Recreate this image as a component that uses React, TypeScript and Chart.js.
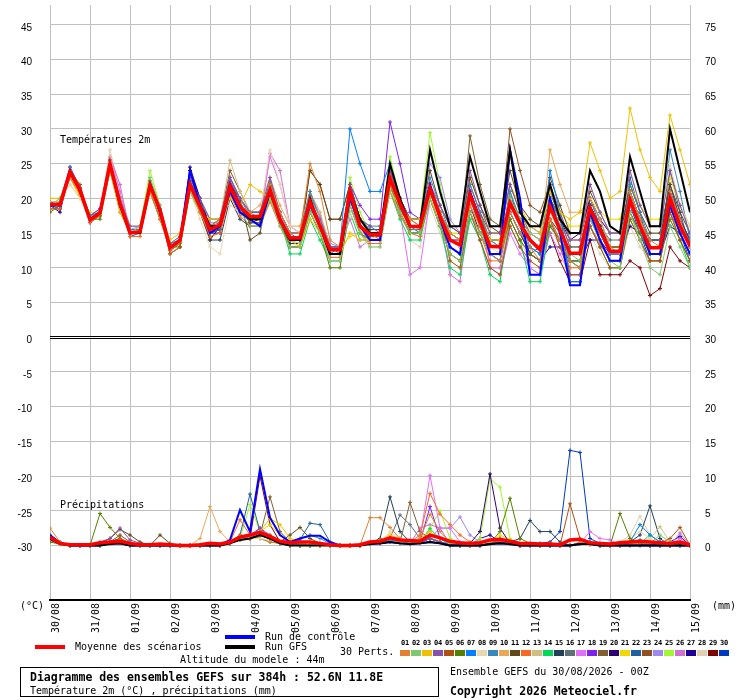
import React, { useEffect, useRef } from "react";
import { Chart, registerables } from "chart.js";

Chart.register(...registerables);

const MONO = "'DejaVu Sans Mono', 'Liberation Mono', monospace";
const SANS = "'Liberation Sans', Arial, sans-serif";

const DATES = ["30/08", "31/08", "01/09", "02/09", "03/09", "04/09", "05/09", "06/09", "07/09", "08/09", "09/09", "10/09", "11/09", "12/09", "13/09", "14/09", "15/09"];
const LEFT_TICKS = [-30, -25, -20, -15, -10, -5, 0, 5, 10, 15, 20, 25, 30, 35, 40, 45];
const RIGHT_TICKS = [0, 5, 10, 15, 20, 25, 30, 35, 40, 45, 50, 55, 60, 65, 70, 75];
const STEP_HOURS = 6;

const MEMBER_COLORS = [
  "#e08030", "#80c870", "#f0c000", "#8850a8", "#b05010", "#588000", "#0080ff", "#e8d8b0", "#3888b8", "#e8a858",
  "#604818", "#f86820", "#d0c080", "#00d858", "#204058", "#607078", "#e070f8", "#8020f0", "#806030", "#300070",
  "#f0d800", "#2060a0", "#905020", "#a088f0", "#a0f830", "#d070d0", "#200098", "#e0d0b0", "#800000", "#0038c0",
];
const MEMBER_NAMES = ["01","02","03","04","05","06","07","08","09","10","11","12","13","14","15","16","17","18","19","20","21","22","23","24","25","26","27","28","29","30"];

// Temperature 2m (°C), 6-hourly
const T_MEAN = [19.1,19.1,23.8,21.2, 16.9,17.9,25.0,19.3, 15.0,15.2,21.9,18.3, 12.9,14.0,22.0,18.8, 15.5,16.2,21.7,18.8, 17.4,17.4,21.2,16.9, 14.3,14.3,19.5,16.0, 12.6,12.6,21.0,16.0, 14.8,14.8,22.9,19.3, 16.0,15.9,21.4,17.4, 14.0,13.3,20.5,16.7, 13.1,13.0,19.3,16.4, 14.0,12.6,18.8,15.5, 12.1,12.1,18.6,15.5, 12.4,12.4,19.8,16.0, 12.9,12.9,20.0,16.0, 13.1];
const T_CTL = [19,19,24,21, 17,18,25,19, 15,15,22,18, 13,14,24,19, 15,16,21,18, 17,16,21,17, 14,14,19,16, 12,12,20,16, 14,14,23,19, 16,16,22,17, 13,12,21,17, 12,12,27,20, 9,9,20,15, 7.5,7.5,18,14, 11,11,20,16, 12,12,19,15, 12];
const T_GFS = [19,19,24,21, 17,18,25,19, 15,15,22,18, 13,14,22,19, 16,16,22,19, 17,17,21,17, 14,14,20,16, 12,12,21,17, 15,15,25,20, 16,16,27,21, 16,16,26,21, 16,16,27,18, 16,16,22,17, 15,15,24,21, 16,15,26,21, 16,16,30,24, 18];

const T01 = [19,19,23,21, 17,18,24,19, 15,15,21,17, 13,14,22,18, 16,17,21,19, 18,17,22,18, 15,15,25,21, 14,13,20,17, 15,14,22,19, 17,16,22,18, 15,14,19,16, 12,11,18,15, 13,11,17,14, 11,10,18,15, 13,12,21,17, 14,13,21,17, 13];
const T02 = [19,20,24,21, 17,18,25,20, 15,16,23,19, 13,14,21,18, 15,16,21,18, 16,16,20,16, 13,13,18,15, 11,11,19,15, 13,13,21,18, 15,15,20,16, 12,11,18,15, 12,12,20,17, 15,14,20,16, 12,11,17,14, 11,10,18,14, 10,9,16,13, 10];
const T03 = [20,20,23,21, 17,18,24,18, 15,15,21,18, 14,15,21,18, 17,17,20,19, 22,21,20,17, 14,13,17,15, 12,12,15,14, 14,14,21,19, 17,17,20,17, 15,14,20,17, 14,14,20,17, 16,15,21,18, 17,18,28,24, 20,21,33,27, 23,21,32,27, 22];
const T04 = [19,19,23,21, 17,18,25,20, 16,16,22,18, 13,14,23,20, 17,17,23,20, 18,18,23,18, 15,14,19,17, 13,13,22,17, 16,15,24,20, 17,17,22,19, 16,15,24,19, 15,15,22,18, 16,15,22,18, 14,14,22,18, 15,15,24,19, 16,16,24,19, 15];
const T05 = [19,19,24,22, 17,18,25,19, 15,15,22,18, 12,13,22,19, 15,16,22,19, 17,17,21,17, 14,14,20,16, 13,12,21,16, 15,15,24,20, 17,16,22,18, 11,10,18,14, 10,9,16,13, 11,10,17,13, 9,9,16,13, 10,10,17,14, 11,11,18,14, 11];
const T06 = [18,19,24,21, 17,17,24,18, 15,15,21,17, 13,13,21,18, 15,16,22,18, 17,17,20,17, 13,13,18,15, 10,10,19,15, 14,14,22,18, 15,15,20,16, 12,11,18,15, 12,12,17,14, 12,11,16,14, 11,11,17,15, 13,13,18,15, 12,12,17,14, 11];
const T07 = [19,19,24,21, 17,18,25,20, 15,15,22,18, 13,14,22,19, 15,16,21,19, 18,18,21,17, 14,14,19,16, 12,13,30,25, 21,21,25,20, 16,15,21,17, 13,12,20,16, 12,11,18,15, 13,12,24,18, 8,8,17,14, 11,11,18,15, 12,12,19,15, 12];
const T08 = [20,20,22,20, 17,18,26,20, 16,16,21,18, 12,13,21,17, 13,12,19,18, 17,18,27,22, 16,15,20,17, 11,11,18,15, 13,13,22,18, 16,16,22,18, 14,13,20,17, 13,12,19,16, 15,14,22,18, 14,14,22,18, 15,15,24,19, 16,16,25,19, 16];
const T09 = [19,19,24.5,21.5, 17.5,18,25.5,20, 15.5,15.5,22.5,18.5, 13.5,14.5,23,19.5, 17,17,23,20, 18,18,22,18, 15,15,21,17, 13,13,22,17, 16,16,24,20, 17,17,23,19, 15,14,22,18, 14,13,21,17, 13,12,20,16, 11,11,18,15, 12,12,22,18, 14,14,27,21, 14];
const T10 = [19,19,23,21, 17,18,24,19, 15,15,22,18, 12,13,22,18, 15,16,22,19, 18,19,23,19, 16,16,21,18, 13,13,21,17, 15,15,23,19, 16,16,21,17, 14,13,19,16, 13,13,19,16, 14,13,27,22, 18,18,20,17, 13,13,21,17, 13,13,19,16, 13];
const T11 = [19,19,24,21, 17,18,25,19, 15,15,22,18, 13,14,22,19, 16,17,22,20, 14,15,22,17, 14,14,24,22, 17,17,22,17, 15,15,24,20, 17,17,24,19, 16,15,23,19, 16,15,24,19, 17,16,23,19, 15,15,21,18, 15,15,22,18, 15,15,22,18, 15];
const T12 = [18.5,18.5,23,20.5, 16.5,17.5,24.5,19, 14.5,14.5,21,17, 12.5,13.5,21,18, 14.5,15,20.5,17.5, 16,16,19.5,16, 13,13,18,15, 11.5,11.5,19,15, 13.5,13.5,21,17.5, 15,14.5,20,16, 12,11,18,15, 11,11,17,14, 12,11,17,14, 10,10,16,13.5, 11,11,18,14, 11,11,18,15, 12];
const T13 = [19.5,19.5,24,21, 17,18,25,20, 15,15,21.5,18, 13,14,21,18, 16,17,25.5,21, 18,17,22,17, 14,13.5,18.5,15.5, 12,12,20,15.5, 14,14,22,18, 16,15,20,16.5, 13,12,19,16, 12,12,18,15, 13,12,18,15, 11,11,17,14, 11,11,18,15, 12,12,19,15, 12];
const T14 = [19,19,24,21, 17,18,25,19, 15,15,22,18, 13,14,22,19, 15,16,21,19, 17,17,21,17, 12,12,17,14, 11,11,18,14, 14,14,21,17, 14,14,20,16, 10,9,17,14, 9,8,17,14, 8,8,16,14, 11,10,16,13, 10,10,17,14, 11,11,18,14, 10];
const T15 = [18.5,18.5,23.5,21, 17,18,24.5,19, 15,15,22,18, 13,14,22.5,19, 14,14,20,17, 16,16,20,16.5, 13.5,13.5,19,15.5, 13,13,22,17, 15.5,15.5,22,18, 15,15,20,16, 13,12,19,16, 12,12,18,15, 12,13,17,15, 12,12,19,16, 13,13,21,17, 14,14,22,17, 14];
const T16 = [19,19.5,24,21.5, 17.5,18,25,19.5, 15.5,15.5,22.5,18.5, 13.5,14,21.5,18.5, 16,16.5,23,20, 17.5,17.5,22.5,18, 15,15,20.5,17, 13,13,21.5,17, 15,15,24,20, 17,17,22,18, 15,14,21,17.5, 14,14,20,17, 15,14,20,17, 13,13,19,16, 14,14,21,17, 14,14,21,17, 14];
const T17 = [19,19,24,21, 17,18,26,21, 15,15,22,18, 13,14,22,19, 16,16,22,19, 17,17,26,22, 16,15,20,17, 13,13,21,17, 15,14,22,18, 9,10,20,17, 14,13,22,18, 10,9,15,12, 10,9,15,12, 9,9,16,13, 12,12,19,16, 13,13,22,17, 14];
const T18 = [19,19.5,24.5,21.5, 17.5,18.5,25,19.5, 15.5,15.5,22,18, 13,14,22.5,19, 16,16,22.5,19.5, 17,17.5,21.5,17.5, 14.5,14.5,19,17, 13,13,22,19, 17,17,31,25, 18,17,22,18, 14,13,21,17, 13,13,20,16, 14,13,20,16, 12,12,19,16, 13,13,21,17, 13,13,21,17, 14];
const T19 = [19,19,23.5,21, 17,17.5,24.5,19, 15,15,21.5,18, 13,13.5,21.5,18.5, 15.5,16,21.5,18.5, 16.5,16.5,20.5,16.5, 13.5,13.5,19,16, 12,12,20,16, 14.5,14.5,22,18.5, 15.5,15.5,21,17.5, 15,14,29,22, 17,16,22,18, 15,14,20,17, 13,13,19,16, 13,13,21,17, 13,13,20,16, 13];
const T20 = [19.5,19,24,21, 17,18,25.5,19.5, 15,15,22,18, 13,14,24,20, 16,16,22,19, 16.5,17,21,17, 14,14,19,16, 12,12,21,16, 15,15,23,19, 16,16,21,17, 14,14,20,17, 14,14,20,17, 15,14,20,17, 14,15,20,17, 15,15,21,17, 14,14,21,17, 14];
const T21 = [20,20,23,20, 18,18,24,19, 15,16,22,18, 13,14,21,18, 16,17,22,19, 18,18,21,17, 14,13,18,16, 13,13,14.5,15, 14,15,21,18, 16,16,21,17, 15,15,23,19, 15,15,22,19, 16,16,21,18, 16,16,20,18, 17,17,22,19, 17,17,23,19, 16];
const T22 = [19,19,23.5,21, 16.5,17.5,25,19, 14.5,15,22,18, 12.5,13.5,22,18.5, 15,15.5,21.5,18.5, 16.5,16.5,20.5,16.5, 13,13,18,15, 11,11,20,15, 14,14,22,18, 15,15,21,17, 13,12,20,16, 12,11,18,15, 13,12,21,17, 11,10,20,16, 12,12,23,18, 12,12,24,18, 13];
const T23 = [19,19,24,21, 17,18,25,19, 15,15,22,18, 13,14,22,19, 16,17,24,21, 18,18,22,18, 15,15,24,22, 17,17,22,17, 15,15,24,20, 17,17,22,18, 15,14,22,18, 15,15,30,24, 19,18,22,18, 14,14,20,17, 13,13,21,17, 14,14,21,17, 14];
const T24 = [19.5,19.5,24.5,21.5, 17.5,18.5,25.5,20, 15.5,16,22.5,19, 13.5,14.5,22.5,19.5, 16.5,16.5,22.5,20, 18,18,22,18, 15,15,21,17.5, 13.5,13,21.5,17, 15,15,22,19, 17,17,25,23, 17,15,21,17, 14,13,20,17, 14,13,20,16, 12,12,19,16, 13,13,20,16, 13,13,21,17, 14];
const T25 = [19,19,24,21, 17,18,25,19, 15,16,24,19, 13,14,22,19, 16,16,22,19, 17,17,21,17, 14,14,19,16, 12,12,23,18, 15,15,26,20, 17,17,29.5,22, 16,15,22,18, 14,13,21,17, 14,13,20,16, 12,12,19,16, 13,13,21,17, 13,13,20,16, 13];
const T26 = [19,19,24,21, 17,18,26,22, 15,15,22,18, 13,14,22,19, 16,16,22,19, 17,17,26.5,24, 16,15,20,17, 13,13,17,13, 14,14,22,18, 16,16,21,17, 9,8,18,14, 10,10,16,13, 10,9,17,13, 12,12,19,16, 13,13,21,17, 14,14,21,17, 14];
const T27 = [19,18,24,21, 17,18,25,19, 15,15,22,18, 13,14,24.5,20, 15,15,21,18, 17,17,21,17, 14,14,19,16, 12,12,21,16, 15,15,23,19, 16,16,22,18, 14,13,20,17, 13,13,19,16, 12,11,13,13, 11,11,14,14, 12,12,16,15, 12,12,16,15, 12];
const T28 = [19,20,22,20, 17,18,27,21, 16,16,22,18, 12,14,23,19, 16,16,22,19, 17,17,22,18, 14,14,20,16, 12,12,22,17, 15,15,22,19, 14,13,19,15, 11,10,17,14, 10,10,17,14, 11,10,16,13, 9,9,15,12, 10,10,16,13, 11,11,17,14, 11];
const T29 = [19,19,24,21, 17,18,25,19, 15,15,22,18, 12,13,22,18, 14,16,21,18, 17,17,21,17, 14,14,19,16, 12,12,21,16, 15,15,23,19, 16,16,22,17, 13,12,19,15, 12,12,18,15, 12,11,15,11, 8,8,14,9, 9,9,11,10, 6,7,13,11, 10];
const T30 = [19,18.5,23.5,21, 17,17.5,24.5,19, 15,15,22,17.5, 12.5,13.5,24,19, 15,15.5,21.5,18.5, 16.5,16.5,20.5,16.5, 14,14,19,16, 12,12,21,16, 14.5,14.5,24,20, 16,16,22,18, 13,12,21,17, 12,12,21,16, 12,11,19,16, 9,9,18,15, 12,12,19,15, 11,11,19,15, 11];

// Precipitation (mm), 6-hourly
const P_MEAN = [1.2,0.3,0.1,0.1, 0.1,0.4,0.5,0.6, 0.3,0.1,0.1,0.2, 0.1,0,0,0.1, 0.3,0.2,0.5,1.2, 1.5,1.9,1.3,0.6, 0.4,0.5,0.5,0.3, 0.1,0,0,0.1, 0.5,0.6,1.1,0.8, 0.7,0.6,1.5,1.1, 0.6,0.4,0.3,0.4, 0.8,0.9,0.6,0.3, 0.3,0.2,0.2,0.1, 0.8,0.9,0.4,0.3, 0.2,0.4,0.5,0.6, 0.5,0.4,0.3,0.5, 0.1];
const P_CTL = [1.5,0.3,0,0, 0,0,0.3,0.3, 0,0,0,0, 0,0,0,0, 0,0,0.8,5.1, 2,11,4,1.5, 0.5,1,1.4,1.4, 0.5,0,0,0, 0.3,0.3,0.5,0.3, 0.2,0.3,0.5,0.3, 0,0,0,0, 0.2,0.3,0.2,0, 0,0,0,0, 0,0.2,0.2,0, 0,0,0,0, 0,0,0,0, 0];
const P_GFS = [1,0.2,0,0, 0,0,0.2,0.3, 0,0,0,0, 0,0,0,0, 0,0,0.3,0.8, 1,1.5,1,0.3, 0,0,0,0, 0,0,0,0, 0.2,0.3,0.5,0.3, 0.2,0.3,0.5,0.3, 0,0,0,0, 0.2,0.3,0.2,0, 0,0,0,0, 0,0.2,0.2,0, 0,0,0,0, 0,0,0,0, 0];

const P01 = [2.5,0.5,0,0, 0,0.3,0.5,0.8, 0.3,0,0,0, 0,0,0,0, 0,0,0.5,1.5, 1,2,1.5,0.5, 0.3,0.2,0,0, 0,0,0,0, 4,4,2.6,1, 0.5,1,4.5,2, 0.5,0.3,0.2,0, 0.3,0.5,0.2,0, 0,0,0.3,0, 0,0.5,0.2,0, 0,0,0.3,0.5, 0,0,0.2,0, 0];
const P02 = [1,0.3,0,0, 0,0,0.3,0.5, 0,0,0,0, 0,0,0,0, 0,0,0.3,0.8, 1.5,2,1,0.3, 0,0,0,0, 0,0,0,0, 0.3,0.5,1,0.5, 0.3,0.5,1.5,1, 0.3,0,0,0, 0.3,1,0.5,0, 0,0,0,0, 0,0.3,0.5,0, 0,0,0.3,0.5, 0.3,1.5,0.5,0, 0];
const P03 = [1,0.2,0,0, 0,0,0.2,0.3, 0,0,0,0, 0,0,0,0, 0,0,0.5,1, 1,2,3.9,3, 1,0.5,0,0, 0,0,0,0, 0.5,0.8,1.5,1, 0.5,1,2,1, 0.3,0.2,0,0, 0.5,1,0.5,0.2, 0,0,0.2,0, 0,0.3,0.2,0, 0,0,0.2,0, 0,0,0.2,0.5, 0];
const P04 = [0.8,0.2,0,0, 0,0.5,1,2.5, 0.8,0.3,0,0, 0,0,0,0, 0,0,0.3,1, 1.5,2.5,1.5,0.5, 0.2,0,0,0, 0,0,0,0, 0.3,0.5,1,0.5, 0.3,0.5,1,0.5, 0,0,0,0, 0.3,0.5,0.3,0, 0,0,0,0, 0,0.3,0.2,0, 0,0,0,0, 0,0.3,0,0, 0];
const P05 = [1,0.3,0,0, 0,0.2,0.5,1, 0.3,0,0,0, 0,0,0,0, 0,0,0.3,1, 1,1.5,1,0.3, 0,0,0,0, 0,0,0,0, 0.3,0.5,1,0.5, 0.3,0.5,1,0.5, 0,0,0,0, 0.3,0.8,0.5,0, 0,0,0,0, 6,1,0.3,0, 0,0,0,0, 0,0.3,1,2.6, 0];
const P06 = [0.5,0.2,0,0, 0,4.6,2.6,1, 0.3,0,0,0, 0,0,0,0, 0,0,0.3,0.8, 1,1.5,1,0.3, 0,0,0,0, 0,0,0,0, 0.2,0.3,0.5,0.3, 0.3,0.5,1.5,1, 0.3,0,0,0, 0.3,2,6.8,1, 0.3,0,0,0, 0,0.3,0.2,0, 0,4.6,1,0.3, 0,0,0.2,0, 0];
const P07 = [0.8,0.3,0,0, 0,0,0.3,0.5, 0,0,0,0, 0,0,0,0, 0,0,0.5,1, 1,1.5,1,0.3, 0,0.3,0,0, 0,0,0,0, 0.2,0.3,0.8,0.5, 0.3,0.3,1,0.5, 0.2,0,0,0, 0.3,0.5,0.3,0, 0,0,0,0, 0,0.3,0.5,0, 0,0,0.5,3, 1.5,0.5,0,0, 0];
const P08 = [0.5,0.2,0,0, 0,0,0.3,0.5, 0,0,0,0, 0,0,0,0, 0,0,0.3,0.8, 1,1,0.8,0.3, 0,0,0,0, 0,0,0,0, 0.2,0.3,2,1, 0.5,0.8,1,0.5, 0.2,0,0,0, 0.2,0.5,0.3,0, 0,0,0,0, 0,0.3,0.2,0, 0,0.5,1,2, 1,0.3,0,0, 0];
const P09 = [1.5,0.5,0,0, 0,0,0.5,1, 0.3,0,0,0, 0,0,0,0, 0,0,0.5,1, 1.5,2,1,0.5, 0.5,1,1.5,1, 0.3,0,0,0, 0.3,0.5,1,0.5, 0.3,0.5,1,0.5, 0.2,0,0,0, 0.3,0.5,0.3,0, 0,0,0,0, 0,0.3,0.5,0, 0,0,0.5,0.8, 0,0,0,0, 0];
const P10 = [0.8,0.2,0,0, 0,0,0.3,0.5, 0,0,0,0, 0,0,0,1, 5.6,2,0.5,1, 1,1.5,1,0.3, 0,0,0,0, 0,0,0,0, 0.3,0.5,1,0.5, 0.3,0.5,1,0.5, 0.2,0,0,0, 0.3,0.5,0.3,0, 0,0,0,0, 0,0.3,0.2,0, 0,0,0.2,0.3, 0,0,0,0, 0];
const P11 = [1,0.3,0,0, 0,0.3,1,2.3, 1.5,0.5,0,1.5, 0.3,0,0,0, 0,0,0.3,0.8, 1,1.5,1,0.5, 1.5,2.6,1,0.3, 0,0,0,0, 0.3,0.5,1,0.5, 0.3,0.5,1,0.5, 0.2,0,0,0, 0.3,0.5,0.3,0, 0,0,0,0, 0,0.3,0.2,0, 0,0,0.2,0.3, 0,0,0,0, 0];
const P12 = [1.5,0.5,0,0, 0,0,0.3,0.5, 0,0,0,0, 0,0,0,0, 0,0,0.5,3.7, 1.5,1,0.5,0.3, 0,0,0,0, 0,0,0,0, 0.3,0.5,1,0.5, 0.5,1.5,7.5,4.5, 3,1.5,0.5,0, 0.3,0.5,0.3,0, 0,0,0,0, 0,0.3,0.2,0, 0,0,0.2,0.3, 0,0,0,0, 0];
const P13 = [0.8,0.3,0,0, 0,0,0.3,0.5, 0,0,0,0, 0,0,0,0, 0,0,0.3,0.8, 1,1.5,1,0.3, 0,0,0,0, 0,0,0,0, 0.3,0.5,1,0.5, 0.3,0.5,1,0.5, 0.2,0,0,0, 0.3,0.5,0.3,0, 0,0,0,0, 0,0.3,0.2,0, 0,0,0.2,0.5, 1,2.7,0.5,0, 0];
const P14 = [1,0.3,0,0, 0,0,0.3,0.5, 0,0,0,0, 0,0,0,0, 0,0,0.3,1, 1.5,1,0.5,0.3, 0,0,0,0, 0,0,0,0, 0.3,0.5,1,0.5, 0.3,0.5,2.4,1, 0.2,0,0,0, 0.3,0.5,0.3,0, 0,0,0,0, 0,0.3,0.2,0, 0,0,0.2,0.3, 1.5,0.5,0,0, 0];
const P15 = [1,0.3,0,0, 0,0,0.3,0.5, 0,0,0,0, 0,0,0,0, 0,0,0.3,1, 1,1.5,1,0.5, 0,0,0,0, 0,0,0,0, 0.3,1,7,2, 0.5,0.5,1,0.5, 0.2,0,0,0, 0.3,1,0.5,1, 3.6,2,2,0.5, 0,0.3,0.2,0, 0,0,0.5,1.5, 5.7,1,0,0, 0];
const P16 = [1,0.3,0,0, 0,0,0.3,0.5, 0,0,0,0, 0,0,0,0, 0,0,0.3,0.8, 1,1.5,1,0.3, 0,0.5,0,0, 0,0,0,0, 0.3,0.5,1,4.4, 3,1,1,0.5, 0.2,0,0,0, 0.3,0.5,0.3,0, 0,0,0,0, 0,0.3,0.2,0, 0,0,0.2,0.3, 0,0,0,0, 0];
const P17 = [0.8,0.3,0,0, 0,0,0.3,0.5, 0,0,0,0, 0,0,0,0, 0,0,0.3,0.8, 1,1.5,1,0.3, 0,0,0,0, 0,0,0,0, 0.3,0.5,1,0.5, 0.3,1,10.1,2.5, 2.5,0.5,0,0, 0.3,0.5,0.3,0, 0,0,0,0, 0,0.3,2,1, 0.8,0,0.2,0.5, 0,0,0,1, 0];
const P18 = [0.8,0.3,0,0, 0,0,0.5,1, 0,0,0,0, 0,0,0,0, 0,0,0.3,0.8, 1,2.5,1,0.3, 0,0,0,0, 0,0,0,0, 0.3,0.5,1,0.5, 0.3,0.5,5.6,1, 0.2,0,0,0, 0.3,0.5,0.3,0, 0,0,0,0, 0,0.3,0.2,0, 0,0,0.2,0.3, 0,0,0,0, 0];
const P19 = [1,0.3,0,0, 0,0,0.5,1, 0,0,0,0, 0,0,0,0, 0,0,0.3,0.8, 1,1.5,7,2, 0.5,0,0,0, 0,0,0,0, 0.3,0.5,1,0.5, 6.2,2,1,0.5, 0.2,0,0,0, 0.3,0.5,0.3,0, 0,0,0,0, 0,0.3,0.2,0, 0,0,0.2,0.3, 0,0,0,0, 0];
const P20 = [0.8,0.3,0,0, 0,0,0.3,0.5, 0,0,0,0, 0,0,0,0, 0,0,0.3,0.8, 1,1.5,1,0.3, 0,0,0,0, 0,0,0,0, 0.3,0.5,1,0.5, 0.3,0.5,1,0.5, 0.2,0,0.3,2, 10.3,2.5,0.3,0, 0,0,0,0, 0,0.3,0.2,0, 0,0,0.2,0.3, 0,0,0,0, 0];
const P21 = [0.8,0.3,0,0, 0,0,0.3,0.5, 0,0,0,0, 0,0,0,0, 0,0,0.3,1, 1.5,2,3,1.5, 0.5,0,0,0, 0,0,0,0, 0.3,0.5,1,0.5, 0.3,0.5,1,0.5, 0.2,0,0,0, 0.3,1.5,0.8,0, 0,0,0,0, 0,0.3,0.2,0, 0,0,0.2,0.3, 0,0,0,0, 0];
const P22 = [1.5,0.5,0,0, 0,0,0.3,0.5, 0,0,0,0, 0,0,0,0, 0,0,0.5,1.5, 7.4,2,1,0.5, 0.5,0.8,3.2,3, 0.5,0,0,0, 0.3,0.5,1,0.5, 0.3,0.5,1,0.5, 0.2,0,0,0, 0.3,0.5,0.3,0, 0,0,0,0, 0,0.3,0.2,0, 0,0,0.2,0.3, 0,0,0,0, 0];
const P23 = [1,0.3,0,0, 0,0,0.5,1.5, 0.5,0,0,0, 0,0,0,0, 0,0,0.3,0.8, 1,1.5,1,0.3, 0,0,0,0, 0,0,0,0, 0.3,0.5,1,0.5, 0.3,0.5,1,0.5, 0.2,0,0,0, 0.3,0.5,0.3,0, 0,0,0,0, 0,0.3,0.2,0, 0,0,0.2,0.3, 0,0,0,0.5, 0];
const P24 = [0.8,0.3,0,0, 0,0,0.3,0.5, 0,0,0,0, 0,0,0,0, 0,0,0.3,0.8, 1,1.5,1,0.3, 0,0,0,0, 0,0,0,0, 0.3,0.5,1,0.5, 0.3,0.5,1,2.5, 2.5,4.1,1.5,0.5, 0.3,0.5,0.3,0, 0,0,0,0, 0,0.3,0.2,0, 0,0,0.2,0.3, 0,0,0,0, 0];
const P25 = [1,0.3,0,0, 0,0,0.3,0.5, 0,0,0,0, 0,0,0,0, 0,0,0.3,1, 5.9,2,1,0.5, 0,0,0,0, 0,0,0,0, 0.3,0.5,1,0.5, 0.3,0.5,2.5,5, 1,0.3,0.2,1, 9.6,8.4,1,0, 0,0,0,0, 0,0.3,0.2,0, 0,0,0.2,0.3, 0,0,0,0, 0];
const P26 = [0.8,0.3,0,0, 0,0,0.3,0.5, 0,0,0,0, 0,0,0,0, 0,0,0.3,0.8, 1,1.5,1,0.3, 0,0,0,0, 0,0,0,0, 0.3,0.5,1,0.5, 0.3,2.5,3,2.5, 0.2,0,0,0, 0.3,0.5,0.3,0, 0,0,0,0, 0,0.3,0.2,0, 0,0,0.2,0.3, 0,0,0,1.8, 0];
const P27 = [1,0.3,0,0, 0,0,0.3,0.5, 0,0,0,0, 0,0,0,0, 0,0,0.3,0.8, 1,1.5,1,0.3, 0,0,0,0, 0,0,0,0, 0.3,0.5,1,0.5, 0.3,0.5,1,0.5, 0.2,0,0,1, 1.5,0.5,0.3,0, 0,0,0,0, 0,0.3,0.2,0, 0,0,0.2,0.3, 0,0,0.5,1.3, 0];
const P28 = [0.8,0.3,0,0, 0,0,0.3,0.5, 0,0,0,0, 0,0,0,0, 0,0,0.3,0.8, 1,1.5,1,0.3, 0,0,0,0, 0,0,0,0, 0.3,0.5,1,0.5, 0.3,0.5,1,0.5, 0.2,0,0,0, 0.3,0.5,0.3,0, 0,0,0,0, 0,0.3,0.2,0, 0,0.5,1.5,4.2, 1.5,0.5,0,0, 0];
const P29 = [1,0.3,0,0, 0,0,0.3,0.5, 0,0,0,0, 0,0,0,0, 0,0,0.3,1, 1,10,3,0.5, 0,0,0,0, 0,0,0,0, 0.3,0.5,1,0.5, 0.3,0.5,1,0.5, 0.2,0,0,0, 0.3,0.5,0.3,0, 0,0,0,0, 0,0.3,0.2,0, 0,0,0.2,0.3, 0,0,0,0, 0];
const P30 = [1,0.3,0,0, 0,0,0.3,0.5, 0,0,0,0, 0,0,0,0, 0,0,0.3,0.8, 1,1.5,1,0.3, 0,0,0,0, 0,0,0,0, 0.3,0.5,1,0.5, 0.3,0.5,1,0.5, 0.2,0,0,0, 0.3,0.5,0.3,0, 0,0.3,0.5,2, 13.7,13.4,1,0.3, 0,0,0.2,0.3, 0,0,0,0, 0];

const T_MEMBERS = [T01,T02,T03,T04,T05,T06,T07,T08,T09,T10,T11,T12,T13,T14,T15,T16,T17,T18,T19,T20,T21,T22,T23,T24,T25,T26,T27,T28,T29,T30];
const P_MEMBERS = [P01,P02,P03,P04,P05,P06,P07,P08,P09,P10,P11,P12,P13,P14,P15,P16,P17,P18,P19,P20,P21,P22,P23,P24,P25,P26,P27,P28,P29,P30];

// axis range: plot top at 47.857 °C, bottom at -37.857 °C (7 px per unit)
const Y_MIN = -30 - 55 / 7;
const Y_MAX = 45 + 20 / 7;
const PRECIP_OFFSET = 30;

const toXY = (arr: number[]) => arr.map((v, i) => ({ x: i * STEP_HOURS, y: v }));

const zeroLinePlugin = {
  id: "zeroLine",
  beforeDatasetsDraw(chart: any) {
    const { ctx, chartArea, scales } = chart;
    const y = Math.round(scales.y.getPixelForValue(0));
    ctx.save();
    ctx.strokeStyle = "#000";
    ctx.lineWidth = 1;
    ctx.beginPath();
    ctx.moveTo(chartArea.left, y - 0.5);
    ctx.lineTo(chartArea.right, y - 0.5);
    ctx.moveTo(chartArea.left, y + 1.5);
    ctx.lineTo(chartArea.right, y + 1.5);
    ctx.stroke();
    ctx.restore();
  },
};

function Txt(props: { x: number; y: number; children: any; bold?: boolean; size?: number }) {
  const size = props.size ?? 10;
  return (
    <div
      style={{
        position: "absolute",
        left: props.x,
        top: props.y - 7,
        height: 14,
        lineHeight: "14px",
        fontFamily: MONO,
        fontSize: size,
        fontWeight: props.bold ? "bold" : "normal",
        whiteSpace: "pre",
        color: "#000",
      }}
    >
      {props.children}
    </div>
  );
}

export default function App() {
  const canvasRef = useRef<HTMLCanvasElement | null>(null);

  useEffect(() => {
    if (!canvasRef.current) return;
    const datasets: any[] = [];
    const memberStyle = (c: string) => ({
      borderColor: c,
      backgroundColor: c,
      borderWidth: 1,
      pointStyle: "cross",
      pointRadius: 2,
      pointBorderWidth: 1,
      pointBorderColor: c,
    });
    T_MEMBERS.forEach((arr, k) => {
      datasets.push({ label: "T" + MEMBER_NAMES[k], data: toXY(arr), yAxisID: "y", order: 10 + k, ...memberStyle(MEMBER_COLORS[k]) });
    });
    P_MEMBERS.forEach((arr, k) => {
      datasets.push({ label: "P" + MEMBER_NAMES[k], data: toXY(arr), yAxisID: "y2", order: 10 + k, ...memberStyle(MEMBER_COLORS[k]) });
    });
    const thick = (c: string, w: number, order: number) => ({ borderColor: c, backgroundColor: c, borderWidth: w, pointRadius: 0, order });
    datasets.push({ label: "Tctl", data: toXY(T_CTL), yAxisID: "y", ...thick("#0000ff", 2, 3) });
    datasets.push({ label: "Pctl", data: toXY(P_CTL), yAxisID: "y2", ...thick("#0000ff", 2, 3) });
    datasets.push({ label: "Tgfs", data: toXY(T_GFS), yAxisID: "y", ...thick("#000000", 2, 2) });
    datasets.push({ label: "Pgfs", data: toXY(P_GFS), yAxisID: "y2", ...thick("#000000", 2, 2) });
    datasets.push({ label: "Tmean", data: toXY(T_MEAN), yAxisID: "y", ...thick("#ff0000", 3.5, 0) });
    datasets.push({ label: "Pmean", data: toXY(P_MEAN), yAxisID: "y2", ...thick("#ff0000", 3.5, 0) });

    const chart = new Chart(canvasRef.current, {
      type: "line",
      data: { datasets },
      options: {
        animation: false,
        responsive: false,
        devicePixelRatio: 1,
        events: [],
        layout: { padding: 0 },
        elements: { line: { tension: 0 } },
        plugins: { legend: { display: false }, tooltip: { enabled: false }, title: { display: false } },
        scales: {
          x: {
            type: "linear",
            min: 0,
            max: (DATES.length - 1) * 24,
            afterBuildTicks: (s: any) => {
              s.ticks = DATES.map((_, i) => ({ value: i * 24 }));
            },
            ticks: {
              autoSkip: false,
              minRotation: 90,
              maxRotation: 90,
              padding: 3,
              labelOffset: 6,
              color: "#000",
              font: { family: MONO, size: 10 },
              callback: (v: any) => DATES[Math.round(Number(v) / 24)],
            },
            grid: { color: "#c0c0c0", lineWidth: 1, drawTicks: false },
            border: { display: true, color: "#000", width: 2 },
            afterFit: (s: any) => {
              s.height = 100;
              s.paddingLeft = 0;
              s.paddingRight = 0;
            },
          },
          y: {
            position: "left",
            min: Y_MIN,
            max: Y_MAX,
            afterBuildTicks: (s: any) => {
              s.ticks = LEFT_TICKS.map((v) => ({ value: v }));
            },
            ticks: { autoSkip: false, padding: 18, labelOffset: 3, color: "#000", font: { family: SANS, size: 10 } },
            grid: {
              drawTicks: false,
              lineWidth: 1,
              color: (c: any) => (c.tick && c.tick.value === 0 ? "rgba(0,0,0,0)" : "#c0c0c0"),
            },
            border: { display: false },
            afterFit: (s: any) => {
              s.width = 50;
              s.paddingTop = 0;
              s.paddingBottom = 0;
            },
          },
          y2: {
            position: "right",
            min: Y_MIN + PRECIP_OFFSET,
            max: Y_MAX + PRECIP_OFFSET,
            afterBuildTicks: (s: any) => {
              s.ticks = RIGHT_TICKS.map((v) => ({ value: v }));
            },
            ticks: { autoSkip: false, padding: 15, labelOffset: 3, color: "#000", font: { family: SANS, size: 10 } },
            grid: { display: false, drawTicks: false },
            border: { display: false },
            afterFit: (s: any) => {
              s.width = 50;
              s.paddingTop = 0;
              s.paddingBottom = 0;
            },
          },
        },
      } as any,
      plugins: [zeroLinePlugin],
    });
    return () => chart.destroy();
  }, []);

  return (
    <div style={{ position: "absolute", left: 0, top: 0, width: 740, height: 700, background: "#fff", overflow: "hidden" }}>
      <canvas ref={canvasRef} width={740} height={700} style={{ position: "absolute", left: 0, top: 0, width: 740, height: 700 }} />
      <Txt x={60} y={140}>Températures 2m</Txt>
      <Txt x={60} y={505}>Précipitations</Txt>
      <Txt x={20} y={606}>(°C)</Txt>
      <Txt x={712} y={606}>(mm)</Txt>

      <div style={{ position: "absolute", left: 35, top: 645, width: 30, height: 4, background: "#ff0000" }} />
      <Txt x={75} y={647}>Moyenne des scénarios</Txt>
      <div style={{ position: "absolute", left: 225, top: 635, width: 30, height: 4, background: "#0000ff" }} />
      <Txt x={265} y={637}>Run de contrôle</Txt>
      <div style={{ position: "absolute", left: 225, top: 645, width: 30, height: 4, background: "#000000" }} />
      <Txt x={265} y={647}>Run GFS</Txt>
      <Txt x={340} y={652}>30 Perts.</Txt>
      <Txt x={180} y={660}>Altitude du modele : 44m</Txt>

      {MEMBER_NAMES.map((n, k) => (
        <div
          key={"n" + n}
          style={{
            position: "absolute",
            left: 400 + 11 * k - 1,
            top: 639,
            width: 12,
            textAlign: "center",
            fontFamily: MONO,
            fontWeight: "bold",
            fontSize: 7,
            lineHeight: "8px",
            letterSpacing: -0.3,
            color: "#000",
          }}
        >
          {n}
        </div>
      ))}
      {MEMBER_COLORS.map((c, k) => (
        <div key={"s" + k} style={{ position: "absolute", left: 400 + 11 * k, top: 650, width: 10, height: 6, background: c }} />
      ))}

      <div style={{ position: "absolute", left: 20, top: 667, width: 419, height: 30, border: "1px solid #000", boxSizing: "border-box" }} />
      <Txt x={30} y={677} bold size={11.5}>Diagramme des ensembles GEFS sur 384h : 52.6N 11.8E</Txt>
      <Txt x={30} y={691}>Température 2m (°C) , précipitations (mm)</Txt>
      <Txt x={450} y={672}>Ensemble GEFS du 30/08/2026 - 00Z</Txt>
      <Txt x={450} y={691} bold size={11.5}>Copyright 2026 Meteociel.fr</Txt>
    </div>
  );
}
